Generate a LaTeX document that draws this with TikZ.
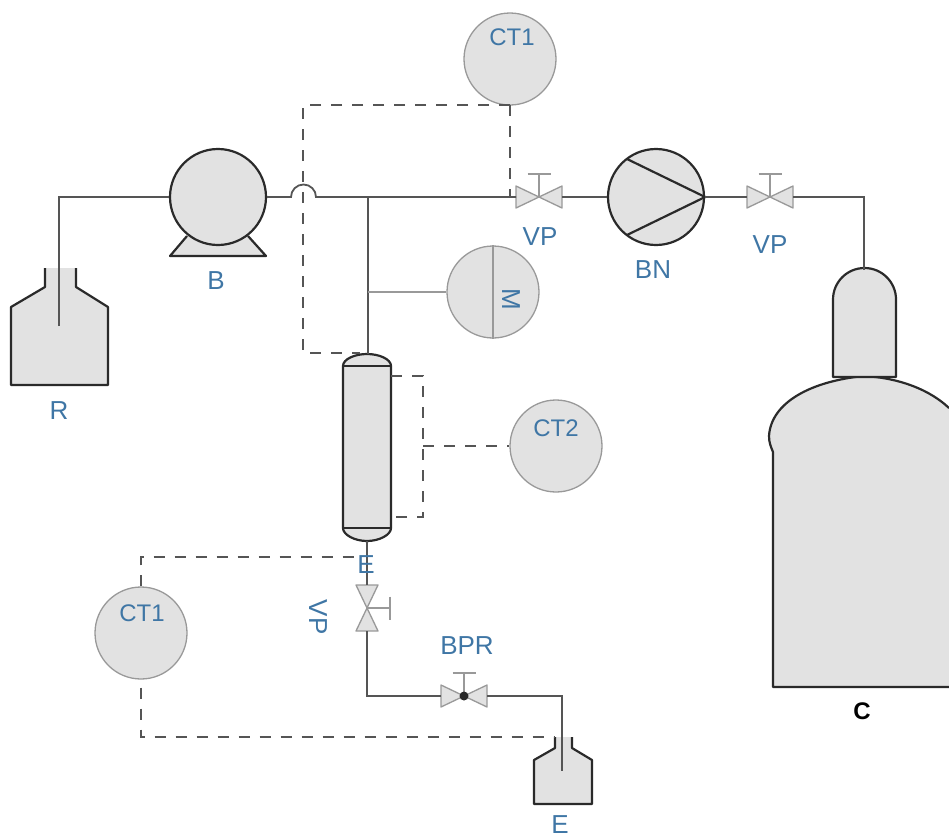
\documentclass[tikz,border=0pt]{standalone}
\usepackage{fontspec}
\setmainfont{Liberation Sans}
\definecolor{fillg}{HTML}{E2E2E2}
\definecolor{ink}{HTML}{2A2A2A}
\definecolor{pipec}{HTML}{555555}
\definecolor{greyln}{HTML}{999999}
\definecolor{lab}{HTML}{3F76A5}
\tikzset{
  equip/.style={draw=ink,fill=fillg,line width=2.2pt,line join=round},
  pumpc/.style={equip,circle,inner sep=0pt,minimum size=96pt},
  instr/.style={circle,draw=greyln,fill=fillg,line width=1.3pt,inner sep=0pt,minimum size=92pt},
  pipe/.style={draw=pipec,line width=1.8pt,line join=miter},
  thinpipe/.style={draw=greyln,line width=1.3pt},
  signal/.style={draw=pipec,line width=2.3pt,dash pattern=on 11pt off 10pt},
  lbl/.style={text=lab,font=\fontsize{26}{26}\selectfont,inner sep=0pt},
  lblct/.style={text=lab,font=\fontsize{24}{24}\selectfont,inner sep=0pt},
  blk/.style={text=black,font=\bfseries\fontsize{24}{24}\selectfont,inner sep=0pt},
  valvepic/.pic={
    \draw[draw=greyln,fill=fillg,line width=1.3pt,line join=round] (-23,-11) -- (23,11) -- (23,-11) -- (-23,11) -- cycle;
    \draw[draw=greyln,line width=1.3pt] (0,0) -- (0,-23) (-11.5,-23) -- (11.5,-23);
    \coordinate (-a) at (-23,0);
    \coordinate (-b) at (23,0);
  }
}
\begin{document}
\begin{tikzpicture}[x=1pt,y=-1pt]
\useasboundingbox (0,0) rectangle (949,838);
% cylinder
\draw[draw=none,fill=fillg] (773,687) -- (773,452) .. controls (771,447) and (769,443) .. (769,436)
  .. controls (771,402) and (812,381) .. (864,376)
  .. controls (900,378) and (930,390) .. (949,408) -- (949,687) -- cycle;
\draw[equip,fill=none] (949,687) -- (773,687) -- (773,452) .. controls (771,447) and (769,443) .. (769,436)
  .. controls (771,402) and (812,381) .. (864,376)
  .. controls (900,378) and (930,390) .. (949,408);
\draw[equip] (833,377) -- (833,299.5) arc[start angle=180,end angle=360,radius=31.5] -- (896,377) -- cycle;
\coordinate (captop) at (864,270);
% bottles
\draw[draw=none,fill=fillg] (11,385) -- (11,307) -- (45,287) -- (45,268) -- (76,268) -- (76,287) -- (108,307) -- (108,385) -- cycle;
\draw[equip,fill=none] (45,268) -- (45,287) -- (11,307) -- (11,385) -- (108,385) -- (108,307) -- (76,287) -- (76,268);
\draw[draw=none,fill=fillg] (534,804) -- (534,760) -- (555,748) -- (555,737) -- (572,737) -- (572,748) -- (592,760) -- (592,804) -- cycle;
\draw[equip,fill=none] (555,737) -- (555,748) -- (534,760) -- (534,804) -- (592,804) -- (592,760) -- (572,748) -- (572,737);
\coordinate (rdip) at (59,326);
\coordinate (edip) at (562,771);
% column
\draw[equip] (343,366) .. controls (343,359) and (355,354) .. (367,354) .. controls (379,354) and (391,359) .. (391,366)
  -- (391,528) .. controls (391,535) and (379,541) .. (367,541) .. controls (355,541) and (343,535) .. (343,528) -- cycle;
\draw[equip] (343,366) -- (391,366) (343,528) -- (391,528);
\coordinate (coltop) at (368,354);
\coordinate (colbot) at (367,541);
% pump base + pump
\draw[equip] (187,236) -- (170,256) -- (266,256) -- (248,236);
\node[pumpc] (pump) at (218,197) {};
% compressor
\node[pumpc] (comp) at (656,197) {};
\coordinate (c1) at (627,159);
\coordinate (c2) at (627,235);
\draw[ink,line width=2.2pt,line join=round] (c1) -- (comp.east) -- (c2);
% instruments
\node[instr] (ct1a) at (510,59) {};
\node[instr] (ct2) at (556,446) {};
\node[instr] (ct1b) at (141,633) {};
\node[instr] (gauge) at (493,292) {};
\draw[thinpipe] (gauge.north) -- (gauge.south);
% valves
\pic (v1) at (539,197) {valvepic};
\pic (v2) at (770,197) {valvepic};
\pic (v3) [rotate=-90] at (367,608) {valvepic};
\pic (v4) at (464,696) {valvepic};
\node[circle,fill=ink,inner sep=0pt,minimum size=9pt] (dot) at (464,696) {};
% junctions and routing points
\coordinate (rtop) at (59,197);
\coordinate (h1) at (291,197);
\coordinate (h2) at (316,197);
\coordinate (jn) at (368,197);
\coordinate (jm) at (368,292);
\coordinate (tc) at (864,197);
\coordinate (bl) at (367,696);
\coordinate (el) at (562,696);
% pipes
\draw[pipe] (rdip) -- (rtop) -- (pump.west);
\draw[pipe] (pump.east) -- (h1) arc[start angle=180,end angle=360,radius=12.5] -- (h2) -- (v1-a);
\draw[pipe,line width=2.6pt] (jn) -- (v1-a);
\draw[pipe] (v1-b) -- (comp.west);
\draw[pipe] (comp.east) -- (v2-a);
\draw[pipe] (v2-b) -- (tc) -- (captop);
\draw[pipe] (jn) -- (coltop);
\draw[thinpipe] (jm) -- (gauge.west);
\draw[pipe] (colbot) -- (v3-a);
\draw[pipe] (v3-b) -- (bl) -- (v4-a);
\draw[pipe] (v4-b) -- (el) -- (edip);
% signal lines
\coordinate (s1) at (510,105);
\coordinate (s2) at (510,197);
\coordinate (s3) at (303,105);
\coordinate (s4) at (303,353);
\coordinate (s5) at (360,353);
\draw[signal] (s1) -- (s2);
\draw[signal] (s1) -- (s3) -- (s4) -- (s5);
\coordinate (s6) at (391,376);
\coordinate (s7) at (423,376);
\coordinate (s8) at (423,517);
\coordinate (s9) at (391,517);
\coordinate (s10) at (423,446);
\draw[signal] (s6) -- (s7) -- (s8) -- (s9);
\draw[signal] (s10) -- (ct2.west);
\coordinate (s11) at (141,557);
\coordinate (s12) at (357,557);
\coordinate (s13) at (141,737);
\coordinate (s14) at (555,737);
\draw[signal] (ct1b.north) -- (s11) -- (s12);
\draw[signal] (ct1b.south) ++(0,8) -- (s13) -- (s14);
% labels
\node[lblct] (lct1a) at (512,37) {CT1};
\node[lblct] (lct2) at (556,428) {CT2};
\node[lblct] (lct1b) at (142,613) {CT1};
\node[lbl,rotate=-90] (lm) at (511,299) {M};
\node[lbl] (lvp1) at (540,237) {VP};
\node[lbl] (lvp2) at (770,245) {VP};
\node[lbl] (lbn) at (653,270) {BN};
\node[lbl] (lb) at (216,281) {B};
\node[lbl] (lr) at (59,411) {R};
\node[lbl] (le1) at (366,565) {E};
\node[lbl,rotate=-90] (lvp3) at (318,617) {VP};
\node[lbl] (lbpr) at (467,646) {BPR};
\node[lbl] (le2) at (560,825) {E};
\node[blk] (lc) at (862,711) {C};
\end{tikzpicture}
\end{document}
